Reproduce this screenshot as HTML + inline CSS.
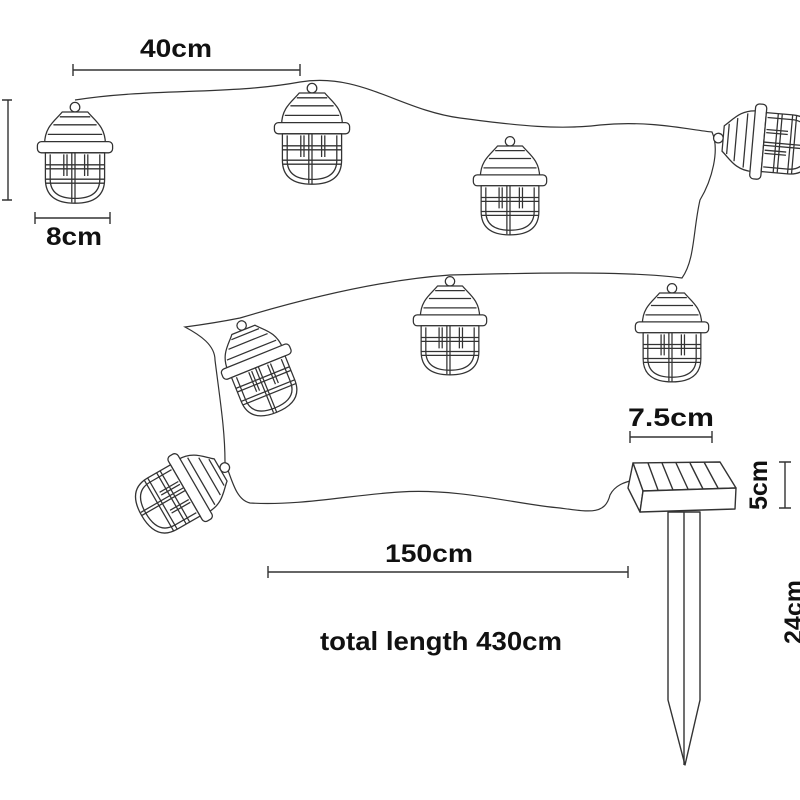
<!DOCTYPE html>
<html><head><meta charset="utf-8"><style>
html,body{margin:0;padding:0;background:#fff;}
svg{display:block;}
text{font-family:"Liberation Sans",Arial,sans-serif;fill:#111;font-weight:bold;}
</style></head><body>
<svg width="800" height="800" viewBox="0 0 800 800" xmlns="http://www.w3.org/2000/svg">
<defs>
<symbol id="L" overflow="visible">
 <g fill="#fff" stroke="#333" stroke-width="1.6" stroke-linejoin="round">
  <circle cx="0" cy="-56" r="6"/>
  <path d="M-38,-10 C-38,-32 -24,-40 -16,-50 L16,-50 C24,-40 38,-32 38,-10 Z"/>
  <path d="M-34,-22 L34,-22 M-27,-34 L27,-34 M-19,-44 L19,-44" fill="none"/>
  <rect x="-47" y="-13" width="94" height="14" rx="5"/>
  <path d="M-37,1 L-37,34 Q-37,64 0,64 Q37,64 37,34 L37,1 Z"/>
  <path d="M-31,3 L-31,34 Q-31,58 0,58 Q31,58 31,34 L31,3" fill="none"/>
  <path d="M-37,16 L37,16 M-37,21 L37,21 M-37,34 L37,34 M-37,39 L37,39 M0,1 L0,64 M-4,1 L-4,63 M-14,3 L-14,30 M-10,3 L-10,30 M12,3 L12,30 M16,3 L16,30" fill="none"/>
 </g>
</symbol>
</defs>
<g fill="none" stroke="#333" stroke-width="1.2">
 <path d="M75,100 C150,88 230,95 300,82 C360,72 400,110 460,118 C520,126 560,130 600,125 C650,120 690,130 712,132 C720,150 712,180 700,200 C693,230 695,260 682,278 C640,272 560,272 450,275 C380,280 300,300 240,318 C220,322 200,325 185,327 C200,335 215,345 215,360 C220,400 225,430 225,462 C232,480 236,500 250,503 C300,506 350,495 400,492 C460,488 520,505 560,508 C590,512 605,515 610,495 C615,485 625,482 634,480"/>
</g>
<use href="#L" transform="translate(75,152) scale(0.8)"/>
<use href="#L" transform="translate(312,133) scale(0.8)"/>
<use href="#L" transform="translate(510,185) scale(0.78)"/>
<use href="#L" transform="translate(763,142) rotate(-85) scale(0.8)"/>
<use href="#L" transform="translate(450,325) scale(0.78)"/>
<use href="#L" transform="translate(672,332) scale(0.78)"/>
<use href="#L" transform="translate(258,366) rotate(-22) scale(0.78)"/>
<use href="#L" transform="translate(186,490) rotate(60) scale(0.8)"/>
<g fill="#fff" stroke="#333" stroke-width="1.4" stroke-linejoin="round">
 <path d="M668,512 L700,512 L700,700 L685,765 L668,700 Z"/>
 <path d="M684,512 L684,765" fill="none"/>
 <path d="M633,463 L720,462 L736,488 L643,491 Z"/>
 <path d="M633,463 L643,491 L640,512 L628,488 Z"/>
 <path d="M643,491 L736,488 L735,509 L640,512 Z"/>
 <path d="M648,463 L658,490 M662,463 L673,490 M676,463 L688,489 M690,463 L703,489 M704,462 L718,488" fill="none"/>
</g>
<g stroke="#333" stroke-width="1.4" fill="none">
 <path d="M73,70 L300,70 M73,64 L73,76 M300,64 L300,76"/>
 <path d="M35,218 L110,218 M35,212 L35,224 M110,212 L110,224"/>
 <path d="M8,100 L8,200 M2,100 L12,100 M2,200 L12,200"/>
 <path d="M630,437 L712,437 M630,431 L630,443 M712,431 L712,443"/>
 <path d="M785,462 L785,508 M779,462 L791,462 M779,508 L791,508"/>
 <path d="M268,572 L628,572 M268,566 L268,578 M628,566 L628,578"/>
</g>
<text x="140" y="57" font-size="25" textLength="72" lengthAdjust="spacingAndGlyphs">40cm</text>
<text x="46" y="245" font-size="25" textLength="56" lengthAdjust="spacingAndGlyphs">8cm</text>
<text x="628" y="426" font-size="25" textLength="86" lengthAdjust="spacingAndGlyphs">7.5cm</text>
<text x="385" y="562" font-size="25" textLength="88" lengthAdjust="spacingAndGlyphs">150cm</text>
<text x="320" y="650" font-size="26" textLength="242" lengthAdjust="spacingAndGlyphs">total length 430cm</text>
<text transform="translate(767,485) rotate(-90)" font-size="25" text-anchor="middle">5cm</text>
<text transform="translate(802,612) rotate(-90)" font-size="25" text-anchor="middle">24cm</text>
</svg>
</body></html>
